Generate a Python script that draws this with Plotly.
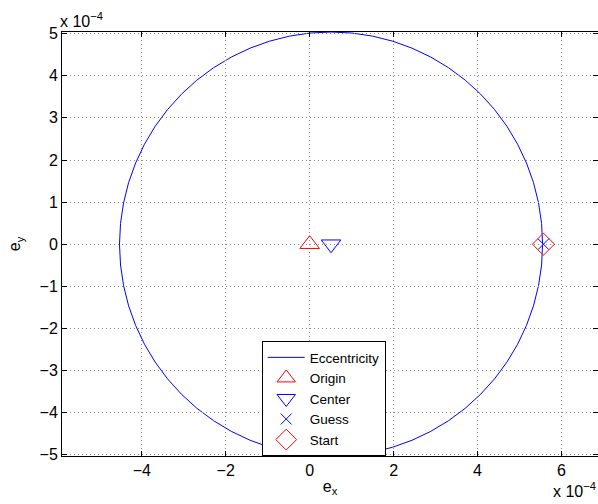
import plotly.graph_objects as go

# ---- data (values in the chart's own units, i.e. real eccentricity) ----
circle_center_x = 0.51e-4
circle_center_y = 0.0
circle_radius = 5.04e-4

origin_x = [0.0]
origin_y = [0.0]
center_x = [0.51e-4]
center_y = [0.0]
guess_x = [5.57e-4]
guess_y = [0.0]
start_x = [5.57e-4]
start_y = [0.0]

x_tick_vals = [-4e-4, -2e-4, 0.0, 2e-4, 4e-4, 6e-4]
x_tick_text = ["\u22124", "\u22122", "0", "2", "4", "6"]
y_tick_vals = [-5e-4, -4e-4, -3e-4, -2e-4, -1e-4, 0.0, 1e-4, 2e-4, 3e-4, 4e-4, 5e-4]
y_tick_text = ["\u22125", "\u22124", "\u22123", "\u22122", "\u22121", "0", "1", "2", "3", "4", "5"]

x_range = [-5.9e-4, 6.87e-4]
y_range = [-5.03e-4, 5.04e-4]

FONT = "Liberation Sans, Arial, Helvetica, sans-serif"
BLUE = "#0000FF"
RED = "#FF0000"

fig = go.Figure()

# legend entry for the eccentricity curve (drawn as a circle shape below)
fig.add_trace(go.Scatter(x=[None], y=[None], mode="lines", name="Eccentricity",
                         line=dict(color=BLUE, width=1)))
fig.add_trace(go.Scatter(x=origin_x, y=origin_y, mode="markers", name="Origin",
                         marker=dict(symbol="triangle-up-open", size=17,
                                     color=RED, line=dict(color=RED, width=1))))
fig.add_trace(go.Scatter(x=center_x, y=center_y, mode="markers", name="Center",
                         marker=dict(symbol="triangle-down-open", size=17,
                                     color=BLUE, line=dict(color=BLUE, width=1))))
fig.add_trace(go.Scatter(x=guess_x, y=guess_y, mode="markers", name="Guess",
                         marker=dict(symbol="x-thin-open", size=11,
                                     color=BLUE, line=dict(color=BLUE, width=1))))
fig.add_trace(go.Scatter(x=start_x, y=start_y, mode="markers", name="Start",
                         marker=dict(symbol="diamond-open", size=17,
                                     color=RED, line=dict(color=RED, width=1))))

fig.add_shape(type="circle", xref="x", yref="y",
              x0=circle_center_x - circle_radius, x1=circle_center_x + circle_radius,
              y0=circle_center_y - circle_radius, y1=circle_center_y + circle_radius,
              line=dict(color=BLUE, width=1), layer="below")

axis_common = dict(
    showline=True, linecolor="black", linewidth=1, mirror="ticks",
    ticks="inside", ticklen=5, tickwidth=1, tickcolor="black",
    showgrid=True, gridcolor="#8c8c8c", gridwidth=1, griddash="1px,3px",
    zeroline=False, tickfont=dict(family=FONT, size=16, color="black"),
)

fig.update_xaxes(range=x_range, tickvals=x_tick_vals, ticktext=x_tick_text,
                 title=dict(text="e<sub>x</sub>", font=dict(family=FONT, size=16, color="black"),
                            standoff=2),
                 **axis_common)
fig.update_yaxes(range=y_range, tickvals=y_tick_vals, ticktext=y_tick_text,
                 title=dict(text="e<sub>y</sub>", font=dict(family=FONT, size=16, color="black"),
                            standoff=14),
                 **axis_common)

fig.add_annotation(text="x 10<sup>\u22124</sup>", xref="paper", yref="paper",
                   x=0, y=1, xanchor="left", yanchor="bottom", yshift=0, xshift=-4,
                   showarrow=False, font=dict(family=FONT, size=16, color="black"))
fig.add_annotation(text="x 10<sup>\u22124</sup>", xref="paper", yref="paper",
                   x=0.92, y=0, xanchor="left", yanchor="top", yshift=-22, xshift=-4,
                   showarrow=False, font=dict(family=FONT, size=16, color="black"))

fig.update_layout(
    width=598, height=504,
    margin=dict(l=62, r=0, t=32, b=48),
    paper_bgcolor="white", plot_bgcolor="white",
    font=dict(family=FONT, size=16, color="black"),
    legend=dict(x=0.3726, y=0.271, xanchor="left", yanchor="top",
                bgcolor="white", bordercolor="black", borderwidth=1,
                font=dict(family=FONT, size=13.5, color="black"),
                tracegroupgap=0, itemwidth=37),
    showlegend=True,
)

fig.write_html("out.html")
